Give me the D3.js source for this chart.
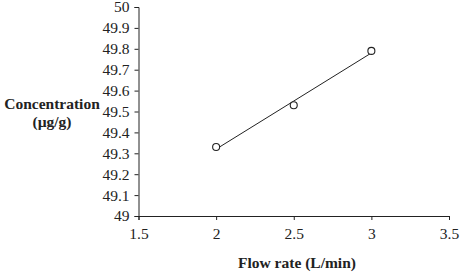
<!DOCTYPE html>
<html>
<head>
<meta charset="utf-8">
<script src="https://cdn.jsdelivr.net/npm/d3@7"></script>
<style>
  body { margin: 0; background: #fff; }
</style>
</head>
<body>
<svg width="460" height="276"></svg>
<script>
const flowRates = [2, 2.5, 3];
const concentrations = [49.33, 49.53, 49.79];
const xTicks = [1.5, 2, 2.5, 3, 3.5];
const yTicks = [49, 49.1, 49.2, 49.3, 49.4, 49.5, 49.6, 49.7, 49.8, 49.9, 50];

const serif = '"Liberation Serif", "Times New Roman", Times, serif';

const svg = d3.select('svg');
const margin = {top: 7, left: 138.5, right: 11, bottom: 60};
const width = +svg.attr('width');
const height = +svg.attr('height');
const innerWidth = width - margin.left - margin.right;
const innerHeight = height - margin.top - margin.bottom;

const xScale = d3.scaleLinear().domain([1.5, 3.5]).range([0, innerWidth]);
const yScale = d3.scaleLinear().domain([49, 50]).range([innerHeight, 0]);

const g = svg.append('g')
    .attr('transform', `translate(${margin.left},${margin.top})`);

const xAxis = d3.axisBottom(xScale).tickValues(xTicks).tickFormat(d3.format('')).tickSizeOuter(0).tickSize(4).tickPadding(8);
const yAxis = d3.axisLeft(yScale).tickValues(yTicks).tickFormat(d3.format('')).tickSizeOuter(0).tickSize(4).tickPadding(5);

const gx = g.append('g').attr('transform', `translate(0,${innerHeight})`).call(xAxis);
const gy = g.append('g').call(yAxis);
[gx, gy].forEach(a => {
  a.attr('font-family', null).attr('font-size', null);
  a.selectAll('text')
      .style('font-family', serif)
      .style('font-size', '15.5px')
      .attr('fill', '#222');
  a.selectAll('line, path').attr('stroke', '#222');
});

// linear trend line
const data = flowRates.map((x, i) => ({x, y: concentrations[i]}));
const mx = d3.mean(flowRates), my = d3.mean(concentrations);
const slope = d3.sum(data, d => (d.x - mx) * (d.y - my)) / d3.sum(data, d => (d.x - mx) ** 2);
const fit = x => my + slope * (x - mx);
const x0 = d3.min(flowRates), x1 = d3.max(flowRates);

g.append('line')
    .attr('x1', xScale(x0)).attr('y1', yScale(fit(x0)))
    .attr('x2', xScale(x1)).attr('y2', yScale(fit(x1)))
    .attr('stroke', '#222').attr('stroke-width', 1);

g.selectAll('circle').data(data)
  .enter().append('circle')
    .attr('cx', d => xScale(d.x))
    .attr('cy', d => yScale(d.y))
    .attr('r', 3.5)
    .attr('fill', '#fff')
    .attr('stroke', '#222')
    .attr('stroke-width', 1.1);

// axis titles
svg.append('text')
    .attr('x', 297).attr('y', 268)
    .attr('text-anchor', 'middle')
    .style('font-family', serif)
    .style('font-size', '15.5px').style('font-weight', 'bold').attr('fill', '#222')
    .text('Flow rate (L/min)');

const yt = svg.append('text')
    .attr('text-anchor', 'middle')
    .style('font-family', serif)
    .style('font-size', '15.5px').style('font-weight', 'bold').attr('fill', '#222');
yt.append('tspan').attr('x', 52).attr('y', 109).text('Concentration');
yt.append('tspan').attr('x', 52).attr('y', 127).text('(µg/g)');
</script>
</body>
</html>
